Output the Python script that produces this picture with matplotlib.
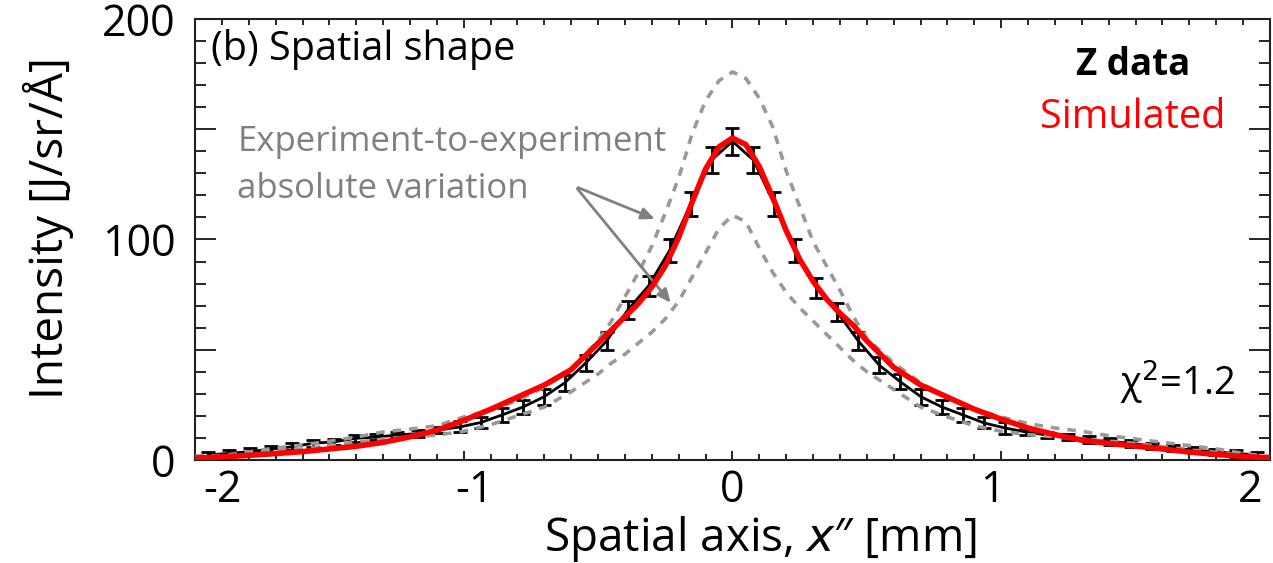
import matplotlib
matplotlib.use("Agg")
import matplotlib.pyplot as plt
import matplotlib.transforms as mtransforms

plt.rcParams['font.family'] = ['Open Sans', 'DejaVu Sans']
plt.rcParams['axes.unicode_minus'] = False

# measured Z data (black, with error bars)
x_data = [-1.95, -1.872, -1.794, -1.716, -1.638, -1.56, -1.482, -1.404, -1.326, -1.248,
          -1.17, -1.092, -1.014, -0.936, -0.858, -0.78, -0.702, -0.624, -0.546, -0.468,
          -0.39, -0.312, -0.234, -0.156, -0.078, 0.0, 0.078, 0.156, 0.234, 0.312,
          0.39, 0.468, 0.546, 0.624, 0.702, 0.78, 0.858, 0.936, 1.014, 1.092,
          1.17, 1.248, 1.326, 1.404, 1.482, 1.56, 1.638, 1.716, 1.794, 1.872, 1.95]
y_data = [2.3, 3.0, 3.8, 4.9, 6.0, 7.6, 8.2, 9.8, 10.4, 11.3,
          12.0, 13.6, 15.0, 17.0, 20.4, 24.0, 28.6, 35.0, 44.0, 54.0,
          68.0, 79.0, 95.0, 116.0, 136.0, 144.5, 136.0, 116.0, 95.0, 78.0,
          67.0, 54.0, 43.0, 35.5, 28.6, 24.0, 20.4, 16.8, 14.5, 12.7,
          11.3, 10.4, 9.2, 8.4, 7.6, 6.3, 5.4, 4.5, 3.7, 3.0, 2.3]
y_err = [1.5, 1.5, 1.5, 1.5, 1.5, 1.5, 1.5, 1.5, 1.5, 1.5,
         1.5, 1.5, 2.5, 2.5, 3.0, 3.0, 3.5, 3.5, 3.5, 4.0,
         4.0, 4.5, 5.0, 5.5, 6.0, 6.0, 6.0, 5.5, 5.0, 4.5,
         4.0, 4.0, 3.5, 3.5, 3.5, 3.0, 3.0, 2.5, 2.5, 1.5,
         1.5, 1.5, 1.5, 1.5, 1.5, 1.5, 1.5, 1.5, 1.5, 1.5, 1.5]

# simulated curve and experiment-to-experiment envelope
x_curve = [-2.0, -1.9, -1.8, -1.7, -1.6, -1.5, -1.4, -1.3, -1.2, -1.1, -1.0, -0.9, -0.8,
           -0.7, -0.6, -0.5, -0.45, -0.4, -0.35, -0.3, -0.25, -0.2, -0.15, -0.1, -0.05,
           0.0, 0.05, 0.1, 0.15, 0.2, 0.25, 0.3, 0.35, 0.4, 0.45, 0.5, 0.6, 0.7, 0.8,
           0.9, 1.0, 1.1, 1.2, 1.3, 1.4, 1.5, 1.6, 1.7, 1.8, 1.9, 2.0]
y_sim = [0.9, 1.4, 2.1, 2.9, 3.8, 5.0, 6.2, 8.0, 10.5, 13.5, 18.0, 23.0, 28.5,
         34.0, 41.0, 53.0, 59.0, 65.0, 71.0, 78.5, 88.0, 101.0, 117.0, 132.0, 142.0,
         146.0, 143.0, 133.0, 119.0, 104.0, 91.0, 81.0, 73.0, 66.5, 61.0, 54.0, 42.0, 34.0, 28.5,
         23.0, 18.5, 14.5, 11.5, 9.0, 7.5, 6.3, 5.0, 3.6, 2.5, 1.6, 1.0]
y_upper = [1.8, 2.0, 3.6, 5.4, 6.8, 8.5, 10.4, 12.7, 14.0, 15.5, 19.5, 22.5, 27.0,
           33.0, 41.0, 54.0, 63.0, 74.0, 85.0, 97.0, 112.0, 128.0, 148.0, 163.0, 172.0,
           176.0, 173.0, 164.0, 151.0, 131.0, 115.0, 99.0, 88.0, 77.0, 65.0, 55.0, 44.0, 35.0, 28.0,
           23.0, 19.5, 16.5, 14.5, 13.0, 11.0, 9.5, 8.0, 6.5, 5.0, 3.0, 1.5]
y_lower = [1.0, 2.0, 3.0, 4.0, 5.0, 6.5, 8.0, 9.5, 10.5, 11.3, 13.0, 16.0, 20.0,
           24.0, 31.0, 39.0, 44.0, 48.0, 53.0, 58.0, 64.0, 72.0, 83.0, 94.0, 105.0,
           111.0, 108.0, 96.0, 85.0, 76.0, 69.0, 63.0, 57.0, 51.0, 45.0, 40.0, 32.0, 24.0, 19.5,
           15.5, 13.0, 11.5, 10.5, 9.5, 8.5, 7.5, 6.0, 4.5, 3.5, 2.0, 1.0]

x_ticks = [-2, -1, 0, 1, 2]
x_tick_shift = [27, 11, 0, -9, -20]   # label nudges (pixels) as laid out in the original

fig = plt.figure(figsize=(12.73, 5.63), dpi=100)
ax = fig.add_axes([0.1532, 0.183, 0.8444, 0.7833])

gray = '#999999'
ax.errorbar(x_data, y_data, yerr=y_err, color='black', lw=2.0, elinewidth=2.0,
            capsize=5, capthick=2.0, zorder=2)
ax.plot(x_curve, y_upper, color=gray, lw=2.6, ls=(0, (2.4, 2.2)), zorder=3)
ax.plot(x_curve, y_lower, color=gray, lw=2.6, ls=(0, (2.4, 2.2)), zorder=3)
ax.plot(x_curve, y_sim, color='#ff0000', lw=4.0, zorder=4)

ax.set_xlim(-2, 2)
ax.set_ylim(0, 200)
ax.set_xticks(x_ticks)
ax.set_xticklabels([str(t) for t in x_ticks])
ax.set_xticks([i / 10 for i in range(-20, 21)], minor=True)
ax.set_yticks([0, 50, 100, 150, 200])
ax.set_yticklabels(['0', '', '100', '', '200'])
ax.set_yticks(list(range(0, 201, 10)), minor=True)
ax.tick_params(axis='both', which='both', direction='in', top=True, right=True, width=1.2)
ax.tick_params(axis='x', which='major', length=6.5, labelsize=31, pad=6)
ax.tick_params(axis='x', which='minor', length=4.3)
ax.tick_params(axis='y', which='major', length=15, labelsize=31, pad=14)
ax.tick_params(axis='y', which='minor', length=8)
for s in ax.spines.values():
    s.set_linewidth(1.5)
    s.set_color('#222222')

for lbl, dx in zip(ax.get_xticklabels(), x_tick_shift):
    lbl.set_transform(lbl.get_transform() + mtransforms.ScaledTranslation(dx / 100, 0, fig.dpi_scale_trans))

ax.set_xlabel('Spatial axis, $\\it{x}$\u2033 [mm]', fontsize=33, va='center')
ax.xaxis.set_label_coords(0.526, -0.18)
ax.set_ylabel('Intensity [J/sr/\u00c5]', fontsize=33)
ax.yaxis.set_label_coords(-0.113, 0.525)

ax.text(-1.942, 186, '(b) Spatial shape', fontsize=28.5, va='center', ha='left')
ax.text(1.49, 179, 'Z data', fontsize=26.5, fontweight='bold', va='center', ha='center')
ax.text(1.49, 155, 'Simulated', fontsize=28.5, color='#ff0000', va='center', ha='center')
ax.text(1.656, 35, '\u03c7$^2$=1.2', fontsize=27.5, va='center', ha='center')
ax.text(-1.842, 144, 'Experiment-to-experiment', fontsize=25, color='#808080',
        va='center', ha='left')
ax.text(-1.842, 123, 'absolute variation', fontsize=25, color='#808080',
        va='center', ha='left')

arrow = dict(arrowstyle='-|>,head_length=0.8,head_width=0.35', color='#808080', lw=2)
ax.annotate('', xy=(-0.279, 108.8), xytext=(-0.584, 124), arrowprops=arrow)
ax.annotate('', xy=(-0.223, 70.3), xytext=(-0.584, 124), arrowprops=arrow)

fig.savefig('out.png', dpi=100)
